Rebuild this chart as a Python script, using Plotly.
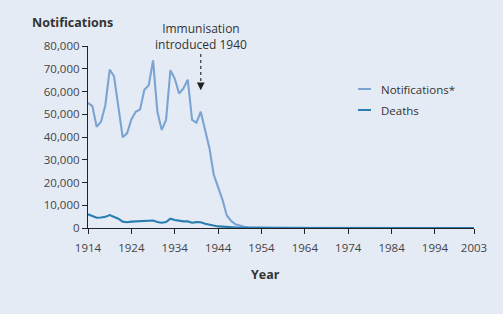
import plotly.graph_objects as go

years = list(range(1914, 2004))

notifications = [
    55000, 53600, 44500, 46700, 54000, 69600, 66700, 53300, 39900, 41600,
    47700, 51100, 52100, 60800, 62700, 73700, 51100, 43100, 47500, 69300,
    65600, 59100, 61300, 65200, 47500, 46300, 51100, 43100, 35100, 23400,
    18300, 12500, 5500, 3100, 1600, 900, 500, 350, 250, 200,
    150, 100, 80, 60, 50, 40, 30, 25, 20, 15,
    12, 10, 8, 6, 5, 4, 3, 3, 2, 2,
    2, 2, 1, 1, 1, 1, 1, 1, 1, 1,
    1, 1, 1, 1, 1, 1, 1, 1, 1, 1,
    1, 1, 1, 1, 1, 1, 1, 1, 1, 1,
]

deaths = [
    6000, 5200, 4500, 4600, 4900, 5700, 4800, 4100, 2800, 2500,
    2800, 2900, 2800, 3200, 3300, 3300, 2600, 2300, 2600, 4100,
    3500, 3100, 2900, 2900, 2300, 2600, 2500, 1900, 1500, 1000,
    700, 600, 400, 250, 150, 100, 60, 40, 30, 20,
    15, 10, 8, 6, 5, 4, 3, 2, 2, 1,
    1, 1, 1, 1, 1, 1, 1, 1, 1, 1,
    1, 1, 1, 1, 1, 1, 1, 1, 1, 1,
    1, 1, 1, 1, 1, 1, 1, 1, 1, 1,
    1, 1, 1, 1, 1, 1, 1, 1, 1, 1,
]

series_names = ["Notifications*", "Deaths"]
series_colors = ["#7ba4d2", "#2a7db2"]

x_ticks = [1914, 1924, 1934, 1944, 1954, 1964, 1974, 1984, 1994, 2003]
y_ticks = [0, 10000, 20000, 30000, 40000, 50000, 60000, 70000, 80000]
immunisation_year = 1940

W, H = 503, 314
L, R, T, B = 88, 29, 46, 86
pw, ph = W - L - R, H - T - B

def px(p):
    return (p - L) / pw

def py(p):
    return (H - B - p) / ph

fig = go.Figure()
for vals, name, col in zip([notifications, deaths], series_names, series_colors):
    fig.add_trace(go.Scatter(x=years, y=vals, mode="lines", name=name,
                             line=dict(color=col, width=2.1), showlegend=False))

axis_font = dict(family="Open Sans", size=11.5, color="#444444")
fig.update_layout(
    width=W, height=H,
    margin=dict(l=L, r=R, t=T, b=B),
    paper_bgcolor="#e5ebf5", plot_bgcolor="#e5ebf5",
    xaxis=dict(range=[1914, 2003], tickvals=x_ticks, showgrid=False, zeroline=False,
               showline=True, linecolor="#222222", linewidth=1.2,
               ticks="outside", ticklen=5, tickcolor="#222222", tickfont=axis_font,
               ticklabelstandoff=4),
    yaxis=dict(range=[0, 80000], tickvals=y_ticks, tickformat=",", showgrid=False,
               zeroline=False, showline=True, linecolor="#222222", linewidth=1.2,
               ticks="outside", ticklen=5, tickcolor="#222222", tickfont=axis_font),
)

# Axis titles
fig.add_annotation(text="<b>Notifications</b>", xref="paper", yref="paper",
                   x=px(30), y=py(22), xanchor="left", yanchor="middle", showarrow=False,
                   font=dict(family="Open Sans", size=12.5, color="#333333"))
fig.add_annotation(text="<b>Year</b>", xref="paper", yref="paper",
                   x=px(265), y=py(274), xanchor="center", yanchor="middle", showarrow=False,
                   font=dict(family="Open Sans", size=12.5, color="#333333"))

# Immunisation annotation
fig.add_annotation(text="Immunisation<br>introduced 1940", xref="x", yref="paper",
                   x=immunisation_year, y=py(37), xanchor="center", yanchor="middle",
                   showarrow=False, font=dict(family="Open Sans", size=12, color="#333333"))
fig.add_shape(type="line", xref="x", yref="y", x0=immunisation_year, x1=immunisation_year,
              y0=76500, y1=62500, line=dict(color="#333333", width=1.2, dash="dot"))
fig.add_annotation(text="", xref="x", yref="y", x=immunisation_year, y=60500,
                   ax=0, ay=-6, showarrow=True, arrowhead=2, arrowsize=1.3,
                   arrowwidth=1.2, arrowcolor="#222222")

# Legend (manual)
for i, (name, col) in enumerate(zip(series_names, series_colors)):
    yy = 89 + 21 * i
    fig.add_shape(type="line", xref="paper", yref="paper", x0=px(358), x1=px(371),
                  y0=py(yy), y1=py(yy), line=dict(color=col, width=2))
    fig.add_annotation(text=name, xref="paper", yref="paper", x=px(379), y=py(yy),
                       xanchor="left", yanchor="middle", showarrow=False,
                       font=dict(family="Open Sans", size=11.5, color="#333333"))

fig.write_html("out.html")
